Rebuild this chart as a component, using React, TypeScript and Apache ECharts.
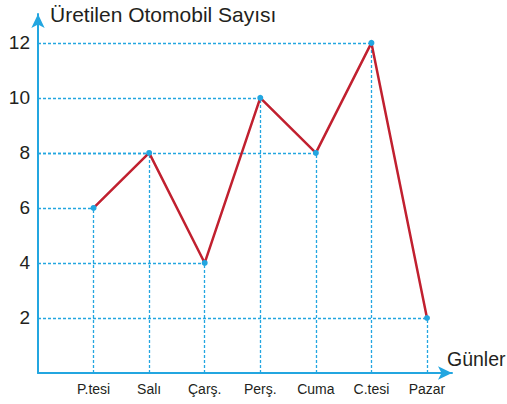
import React, { useEffect, useRef } from "react";
import * as echarts from "echarts";

const categories = ["P.tesi", "Salı", "Çarş.", "Perş.", "Cuma", "C.tesi", "Pazar"];
const values = [6, 8, 4, 10, 8, 12, 2];
const yTicks = [2, 4, 6, 8, 10, 12];
const yTitle = "Üretilen Otomobil Sayısı";
const xTitle = "Günler";

const BLUE = "#23a6e0";
const RED = "#c1202f";

export default function App() {
  const ref = useRef<HTMLDivElement>(null);
  useEffect(() => {
    document.body.style.margin = "0";
    const chart = echarts.init(ref.current!, null, { renderer: "svg" });
    const points = values.map((v, i) => [i + 1, v]);
    const guide: any[] = [];
    points.forEach(([x, y]) => {
      guide.push([{ coord: [0, y] }, { coord: [x, y] }]);
      guide.push([{ coord: [x, 0] }, { coord: [x, y] }]);
    });
    chart.setOption({
      animation: false,
      grid: { left: 38, right: 55, top: 14, bottom: 31, outerBoundsMode: "none", containLabel: false },
      xAxis: {
        type: "value",
        min: 0,
        max: 7.45,
        interval: 1,
        name: xTitle,
        nameLocation: "end",
        nameGap: -5,
        nameTextStyle: {
          fontFamily: "Liberation Sans, Arial, sans-serif",
          fontSize: 19.5,
          color: "#231f20",
          align: "left",
          verticalAlign: "bottom",
          padding: [0, 0, 4, 0],
        },
        axisLine: {
          lineStyle: { color: BLUE, width: 2 },
          symbol: ["none", "arrow"],
          symbolSize: [10, 14],
        },
        axisTick: { show: false },
        splitLine: { show: false },
        axisLabel: {
          margin: 9,
          fontFamily: "Liberation Sans, Arial, sans-serif",
          fontSize: 14,
          color: "#231f20",
          formatter: (v: number) =>
            Number.isInteger(v) && v >= 1 && v <= categories.length ? categories[v - 1] : "",
        },
      },
      yAxis: {
        type: "value",
        min: 0,
        max: 13.05,
        interval: 2,
        name: yTitle,
        nameLocation: "end",
        nameGap: 0,
        nameTextStyle: {
          fontFamily: "Liberation Sans, Arial, sans-serif",
          fontSize: 21,
          color: "#231f20",
          align: "left",
          verticalAlign: "middle",
          padding: [0, 0, 0, 12],
        },
        axisLine: {
          show: true,
          lineStyle: { color: BLUE, width: 2 },
          symbol: ["none", "arrow"],
          symbolSize: [10, 14],
        },
        axisTick: { show: false },
        splitLine: { show: false },
        axisLabel: {
          margin: 8,
          fontFamily: "Liberation Sans, Arial, sans-serif",
          fontSize: 19,
          color: "#231f20",
          formatter: (v: number) => (yTicks.includes(v) ? String(v) : ""),
        },
      },
      series: [
        {
          type: "line",
          data: points,
          symbol: "circle",
          symbolSize: 6,
          itemStyle: { color: BLUE },
          lineStyle: { color: RED, width: 2.5 },
          z: 3,
          markLine: {
            silent: true,
            symbol: "none",
            label: { show: false },
            lineStyle: { color: BLUE, width: 1.3, type: [3, 2] },
            emphasis: { disabled: true },
            data: guide,
            z: 1,
          },
        },
      ],
    });
    return () => chart.dispose();
  }, []);
  return <div ref={ref} style={{ width: 507, height: 404 }} />;
}
